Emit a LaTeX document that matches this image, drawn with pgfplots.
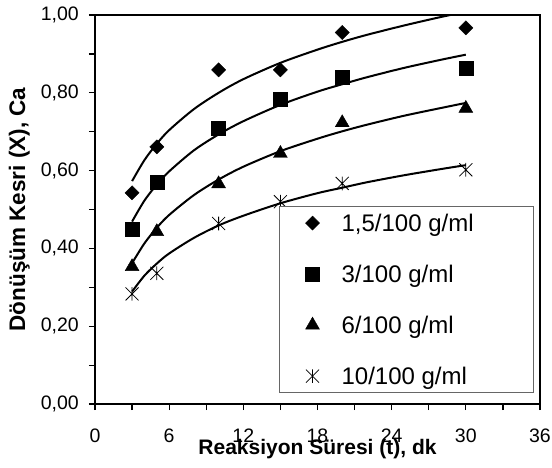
\documentclass[border=0pt]{standalone}
\usepackage{fontspec}
\setmainfont{Liberation Sans}
\usepackage{pgfplots}
\pgfplotsset{compat=1.18}

% Star marker: a diagonal cross with a vertical bar through it
\pgfdeclareplotmark{xstar}{%
  \pgfpathmoveto{\pgfqpoint{-\pgfplotmarksize}{-\pgfplotmarksize}}%
  \pgfpathlineto{\pgfqpoint{\pgfplotmarksize}{\pgfplotmarksize}}%
  \pgfpathmoveto{\pgfqpoint{-\pgfplotmarksize}{\pgfplotmarksize}}%
  \pgfpathlineto{\pgfqpoint{\pgfplotmarksize}{-\pgfplotmarksize}}%
  \pgfpathmoveto{\pgfqpoint{0pt}{-1.05\pgfplotmarksize}}%
  \pgfpathlineto{\pgfqpoint{0pt}{1.05\pgfplotmarksize}}%
  \pgfusepathqstroke}

\begin{document}
\begin{tikzpicture}
\begin{axis}[
  scale only axis,
  width=445pt, height=389pt,
  xmin=0, xmax=36, ymin=0, ymax=1,
  xtick={0,6,12,18,24,30,36},
  ytick={0,0.2,0.4,0.6,0.8,1.0},
  minor x tick num=1, minor y tick num=1,
  tick align=outside, tick pos=left,
  major tick length=6pt, minor tick length=6pt,
  every tick/.style={black, line width=1.2pt},
  axis line style={line width=2pt},
  /pgf/number format/assume math mode=true,
  tick label style={font=\fontsize{19.5}{20}\selectfont},
  yticklabel style={/pgf/number format/fixed, /pgf/number format/fixed zerofill,
    /pgf/number format/precision=2, /pgf/number format/use comma,
    anchor=east, inner sep=0pt, xshift=-10pt},
  xticklabel style={anchor=base, yshift=-32pt},
  xlabel={Reaksiyon Süresi (t), dk},
  ylabel={Dönüşüm Kesri (X), Ca},
  xlabel style={font=\fontsize{21}{22}\bfseries,
    at={(axis description cs:0.5,-0.131)}, anchor=base, inner sep=0pt},
  ylabel style={font=\fontsize{22.5}{23}\bfseries,
    at={(axis description cs:-0.157,0.5)}, anchor=base, inner sep=0pt},
  legend style={
    at={(rel axis cs:1,0)}, anchor=south east, xshift=-6pt, yshift=11pt,
    draw=black!60, line width=0.8pt,
    font=\fontsize{24}{24}\selectfont,
    nodes={inner sep=0pt, text height=17pt, text depth=0pt},
    inner xsep=26pt, inner ysep=8pt,
    row sep=34pt, column sep=22pt,
  },
  legend cell align=left,
  legend image code/.code={%
    \draw[mark repeat=2, mark phase=2, #1]
      plot coordinates {(0pt,0pt) (8pt,0pt) (16pt,0pt)};},
]
% Fitted trend curves
\addplot[black, line width=2pt, smooth, no marks, forget plot] coordinates {
  (3,0.573) (4,0.627) (5,0.669) (6,0.704) (8,0.758) (10,0.800) (12,0.835)
  (15,0.877) (18,0.911) (20,0.931) (22,0.949) (25,0.973) (28,0.995) (30,1.008)};
\addplot[black, line width=2pt, smooth, no marks, forget plot] coordinates {
  (3,0.469) (4,0.523) (5,0.564) (6,0.598) (8,0.652) (10,0.693) (12,0.727)
  (15,0.769) (18,0.803) (20,0.822) (22,0.840) (25,0.864) (28,0.885) (30,0.898)};
\addplot[black, line width=2pt, smooth, no marks, forget plot] coordinates {
  (3,0.362) (4,0.413) (5,0.453) (6,0.486) (8,0.537) (10,0.577) (12,0.610)
  (15,0.650) (18,0.682) (20,0.701) (22,0.718) (25,0.741) (28,0.761) (30,0.774)};
\addplot[black, line width=2pt, smooth, no marks, forget plot] coordinates {
  (3,0.289) (4,0.330) (5,0.361) (6,0.387) (8,0.427) (10,0.459) (12,0.484)
  (15,0.516) (18,0.542) (20,0.556) (22,0.570) (25,0.588) (28,0.604) (30,0.614)};

% Measured points
\addplot[only marks, mark=square*, mark size=5pt,
  mark options={black, fill=black, rotate=45, line width=0.4pt}] coordinates {
  (3,0.543) (5,0.661) (10,0.859) (15,0.859) (20,0.955) (30,0.967)};
\addlegendentry{\makebox[166pt][l]{1,5/100 g/ml}}
\addplot[only marks, mark=square*, mark size=7pt,
  mark options={black, fill=black, line width=0.4pt}] coordinates {
  (3,0.450) (5,0.570) (10,0.708) (15,0.783) (20,0.840) (30,0.862)};
\addlegendentry{3/100 g/ml}
\addplot[only marks, mark=triangle*, mark size=8pt,
  mark options={black, fill=black, line width=0.4pt}] coordinates {
  (3,0.353) (5,0.443) (10,0.566) (15,0.644) (20,0.723) (30,0.760)};
\addlegendentry{6/100 g/ml}
\addplot[only marks, mark=xstar, mark size=6.5pt,
  mark options={black, line width=0.8pt}] coordinates {
  (3,0.283) (5,0.336) (10,0.464) (15,0.520) (20,0.567) (30,0.602)};
\addlegendentry{10/100 g/ml}
\end{axis}
\pgfresetboundingbox
\path (-95pt,-63pt) rectangle (457pt,404pt);
\end{tikzpicture}
\end{document}
